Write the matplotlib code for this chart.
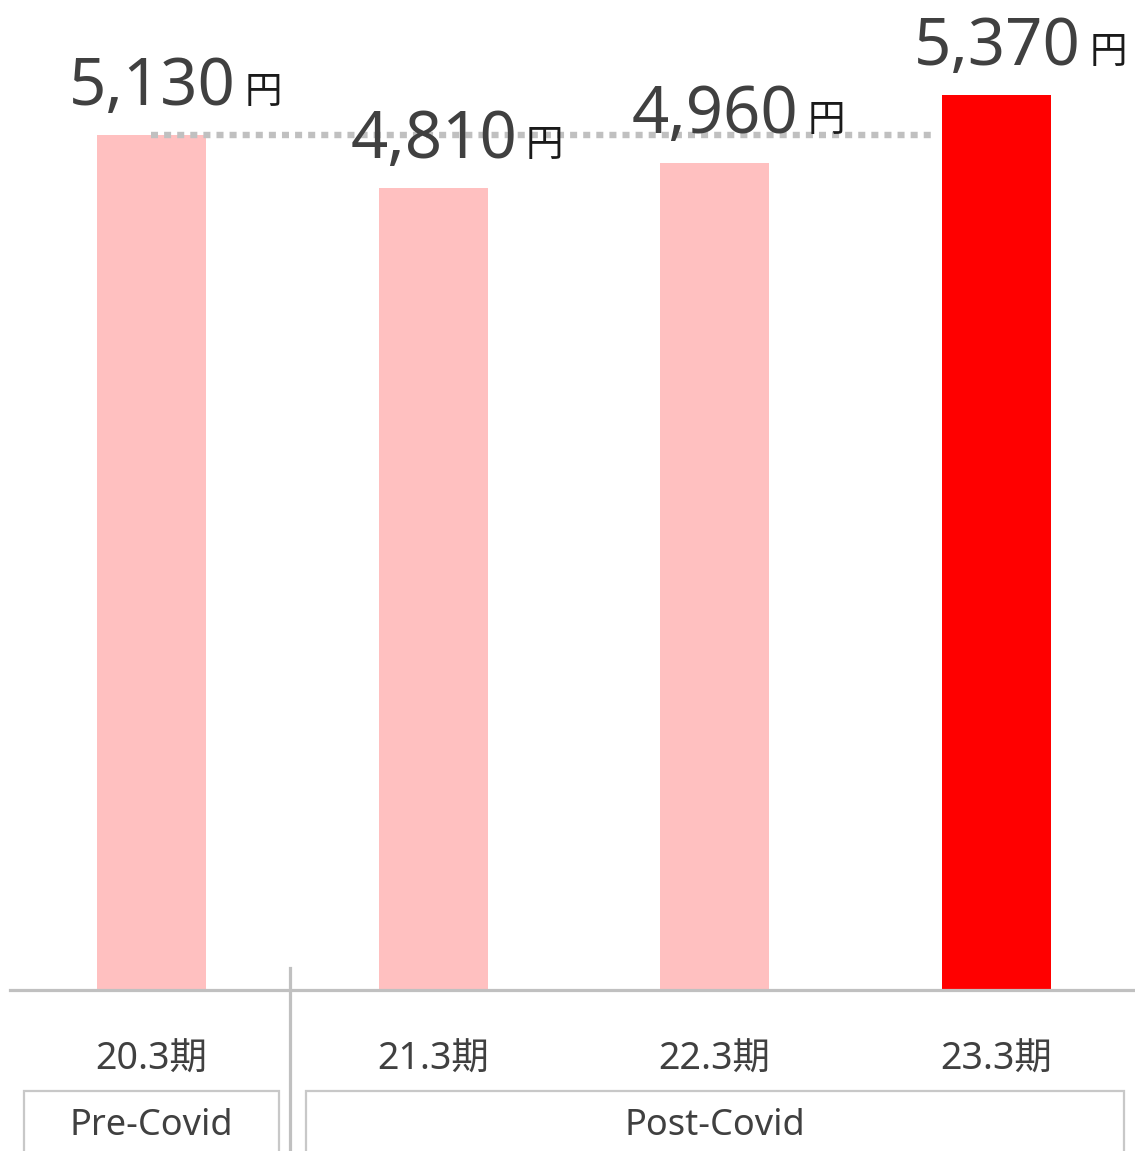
import matplotlib
matplotlib.use("Agg")
import matplotlib.pyplot as plt
import matplotlib.transforms as mtransforms
from matplotlib.patches import Rectangle

plt.rcParams['font.family'] = ['Noto Sans', 'Noto Sans CJK JP', 'DejaVu Sans']

periods = ["20.3期", "21.3期", "22.3期", "23.3期"]
amounts = [5130, 4810, 4960, 5370]
unit = "円"
bar_colors = ["#ffc0c0", "#ffc0c0", "#ffc0c0", "#ff0000"]
groups = ["Pre-Covid", "Post-Covid"]
group_members = [[0], [1, 2, 3]]

TEXT = "#404040"
GREY = "#c0c0c0"

fig = plt.figure(figsize=(11.35, 11.51), dpi=100)
ax = fig.add_axes((10 / 1135, 161 / 1151, 1125 / 1135, 990 / 1151))

x = list(range(len(periods)))
ax.bar(x, amounts, width=0.387, color=bar_colors, zorder=2)
ax.set_xlim(-0.502, 3.492)
ax.set_ylim(0, 5940)

# reference line at the pre-covid level
ax.hlines(amounts[0], 0, 3 - 0.387 / 2 - 0.04, colors=GREY, linewidth=4.6,
          linestyles=(0, (1.1, 0.95)), zorder=3)

# value labels
for i, v in enumerate(amounts):
    ax.annotate(f"{v:,}", xy=(i, v), xytext=(84, 30), textcoords="offset pixels",
                ha="right", va="baseline", fontsize=47, color=TEXT, zorder=4)
    ax.annotate(unit, xy=(i, v), xytext=(93, 32), textcoords="offset pixels",
                ha="left", va="baseline", fontsize=27, color="#1a1a1a", zorder=4,
                family=['Noto Sans CJK JP'])

for s in ["top", "right", "left"]:
    ax.spines[s].set_visible(False)
ax.spines["bottom"].set_color(GREY)
ax.spines["bottom"].set_linewidth(2.3)
ax.set_xticks([])
ax.set_yticks([])

trans = mtransforms.blended_transform_factory(ax.transData, ax.transAxes)

# category labels
for i, p in enumerate(periods):
    ax.text(i, -70 / 990, p, transform=trans, ha="center", va="center",
            fontsize=27, color=TEXT, clip_on=False)

# separator between groups
ax.plot([0.492, 0.492], [22 / 990, -200 / 990], transform=trans, color=GREY,
        linewidth=2.3, clip_on=False)

# group boxes
for name, members in zip(groups, group_members):
    left = min(members) - 0.452
    right = min(max(members) + 0.452, 3.485)
    ax.add_patch(Rectangle((left, -200 / 990), right - left, 99 / 990, transform=trans,
                           fill=False, edgecolor="#c8c8c8", linewidth=1.6, clip_on=False))
    ax.text((left + right) / 2, -136 / 990, name, transform=trans, ha="center",
            va="center", fontsize=26, color=TEXT, clip_on=False)

fig.savefig("out.png", dpi=100)
